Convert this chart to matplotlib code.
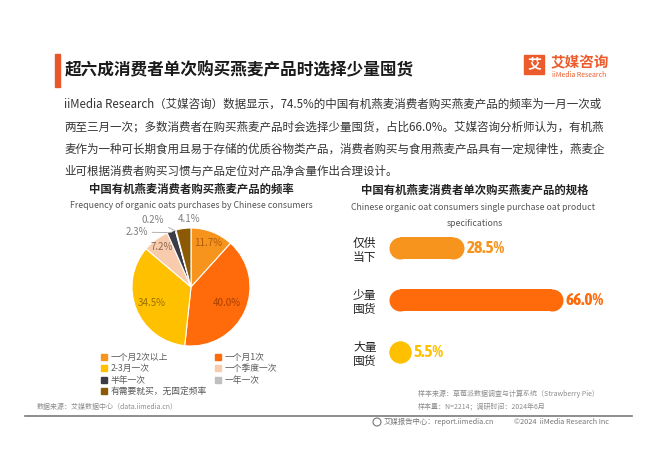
import matplotlib
matplotlib.use('Agg')
import matplotlib.pyplot as plt
import matplotlib.font_manager as fm
import numpy as np
from matplotlib.patches import Rectangle, Circle

plt.rcParams['font.family'] = ['Noto Sans CJK SC', 'DejaVu Sans']

# 数据
freq_labels = ['一个月2次以上', '一个月1次', '2-3月一次', '一个季度一次',
               '半年一次', '一年一次', '有需要就买，无固定频率']
freq_values = [11.7, 40.0, 34.5, 7.2, 2.3, 0.2, 4.1]
freq_colors = ['#F7941E', '#FF6A0A', '#FFC000', '#F8CBAD', '#3C3C48', '#BFBFBF', '#8C5A05']

spec_labels = ['仅供\n当下', '少量\n囤货', '大量\n囤货']
spec_values = [28.5, 66.0, 5.5]
spec_colors = ['#F7941E', '#FF6A0A', '#FFC000']

W, H = 660, 467
fig = plt.figure(figsize=(W / 100, H / 100), dpi=100)
fig.patch.set_facecolor('white')

# 整张图的像素坐标层
ax0 = fig.add_axes([0, 0, 1, 1])
ax0.set_xlim(0, W)
ax0.set_ylim(H, 0)
ax0.axis('off')
ax0.patch.set_visible(False)

# 标题
ax0.add_patch(Rectangle((55, 54), 5, 33, color='#E8572A'))
ax0.text(65, 70, '超六成消费者单次购买燕麦产品时选择少量囤货', fontsize=12, fontweight='bold',
         color='#1a1a1a', va='center')

# logo
ax0.add_patch(Rectangle((524, 55), 20, 19, color='#EB5B2B'))
ax0.text(534, 64.5, '艾', fontsize=10, fontweight='bold', color='white', ha='center', va='center')
ax0.text(551, 62, '艾媒咨询', fontsize=10.5, fontweight='bold', color='#EB5B2B', va='center')
ax0.text(552, 75, 'iiMedia Research', fontsize=5, color='#EB5B2B', va='center')

# 正文
para = ['iiMedia Research（艾媒咨询）数据显示，74.5%的中国有机燕麦消费者购买燕麦产品的频率为一月一次或',
        '两至三月一次；多数消费者在购买燕麦产品时会选择少量囤货，占比66.0%。艾媒咨询分析师认为，有机燕',
        '麦作为一种可长期食用且易于存储的优质谷物类产品，消费者购买与食用燕麦产品具有一定规律性，燕麦企',
        '业可根据消费者购买习惯与产品定位对产品净含量作出合理设计。']
for i, line in enumerate(para):
    ax0.text(64, 104 + i * 22.5, line, fontsize=8.3, color='#333333', va='center')

# 左侧标题
ax0.text(191, 189, '中国有机燕麦消费者购买燕麦产品的频率', fontsize=8.2, fontweight='bold',
         color='#222222', ha='center', va='center')
ax0.text(191, 206, 'Frequency of organic oats purchases by Chinese consumers', fontsize=6.3,
         color='#555555', ha='center', va='center')

# 右侧标题
ax0.text(475, 190, '中国有机燕麦消费者单次购买燕麦产品的规格', fontsize=8.2, fontweight='bold',
         color='#222222', ha='center', va='center')
ax0.text(473, 207, 'Chinese organic oat consumers single purchase oat product', fontsize=6.3,
         color='#555555', ha='center', va='center')
ax0.text(475, 223, 'specifications', fontsize=6.3, color='#555555', ha='center', va='center')

# 底部
ax0.text(37, 407, '数据来源：艾媒数据中心（data.iimedia.cn）', fontsize=5, color='#8c8c8c', va='center')
ax0.text(418, 394, '样本来源：草莓派数据调查与计算系统（Strawberry Pie）', fontsize=5, color='#8c8c8c', va='center')
ax0.text(418, 406, '样本量：N=2214；调研时间：2024年6月', fontsize=5, color='#8c8c8c', va='center')
ax0.plot([25, 632], [416, 416], color='#7a7a7a', lw=1.2)
ax0.add_patch(Circle((377, 422), 4, fill=False, ec='#777777', lw=0.8))
ax0.text(384, 422, '艾媒报告中心：report.iimedia.cn', fontsize=5.3, color='#777777', va='center')
ax0.text(514, 422, '©2024  iiMedia Research Inc', fontsize=5.3, color='#777777', va='center')

# 饼图
cx, cy, r_px = 191, 287, 59
half = r_px * 1.5
ax1 = fig.add_axes([(cx - half) / W, 1 - (cy + half) / H, 2 * half / W, 2 * half / H])
wedges, _ = ax1.pie(freq_values, colors=freq_colors, startangle=90, counterclock=False,
                    wedgeprops=dict(edgecolor='white', linewidth=0.8))
ax1.set_xlim(-1.5, 1.5)
ax1.set_ylim(-1.5, 1.5)
ax1.set_aspect('equal')
ax1.axis('off')

inner_dist = [0.8, 0.66, 0.72, 0.84]
inner_col = ['#B05A0A', '#A84000', '#9A7000', '#8B6A55']
for i in range(4):
    w = wedges[i]
    t = np.deg2rad((w.theta1 + w.theta2) / 2)
    ax1.text(inner_dist[i] * np.cos(t), inner_dist[i] * np.sin(t), f'{freq_values[i]:.1f}%',
             fontsize=7, color=inner_col[i], ha='center', va='center')

# 外部标签
outer = {4: (-0.73, 0.93, 'right'), 5: (-0.45, 1.14, 'right'), 6: (-0.03, 1.15, 'center')}
for i, (tx, ty, ha) in outer.items():
    w = wedges[i]
    t = np.deg2rad((w.theta1 + w.theta2) / 2)
    ex, ey = np.cos(t), np.sin(t)
    if i == 6:
        ax1.text(tx, ty, f'{freq_values[i]:.1f}%', fontsize=7, color='#7f7f7f', ha=ha, va='center')
    else:
        ax1.annotate(f'{freq_values[i]:.1f}%', xy=(ex * 0.98, ey * 0.98), xytext=(tx, ty),
                     fontsize=7, color='#7f7f7f', ha=ha, va='center',
                     arrowprops=dict(arrowstyle='-', color='#a6a6a6', lw=0.6,
                                     shrinkA=1, shrinkB=0))

# 图例
handles = [Rectangle((0, 0), 1, 1, color=c) for c in freq_colors]
order = [0, 2, 4, 6, 1, 3, 5]
fig.legend([handles[i] for i in order], [freq_labels[i] for i in order],
           loc='upper left', bbox_to_anchor=(93 / W, 1 - 345 / H), ncol=2, frameon=False,
           fontsize=6.3, handlelength=0.7, handleheight=0.7, handletextpad=0.4,
           labelspacing=0.28, columnspacing=0.9, labelcolor='#595959')


# 数字用窄体粗字
def is_bold(f):
    w = f.weight
    if isinstance(w, str):
        return 'bold' in w.lower() or 'black' in w.lower() or 'heavy' in w.lower()
    return w >= 600


num_font, num_stretch = 'DejaVu Sans', 'normal'
cands = [f for f in fm.fontManager.ttflist
         if ('Narrow' in f.name or 'Condensed' in f.name) and is_bold(f)]
if cands:
    num_font = cands[0].name
else:
    for f in fm.fontManager.ttflist:
        if f.name == 'DejaVu Sans' and f.stretch == 'condensed' and is_bold(f):
            num_stretch = 'condensed'

px_per = 2.64
bar_h = 22
x0, top = 389, 222
ax2 = fig.add_axes([x0 / W, 1 - (top + 156) / H, 240 / W, 156 / H])
ax2.set_xlim(0, 240 / px_per)
ax2.set_ylim(2.5, -0.5)
ax2.patch.set_visible(False)
for s in ax2.spines.values():
    s.set_visible(False)
ax2.set_xticks([])
ax2.set_yticks(range(len(spec_labels)))
ax2.set_yticklabels(spec_labels, fontsize=8.5, color='#222222')
ax2.tick_params(axis='y', length=0, pad=9)

cap = bar_h / 2 / px_per
lw_pt = bar_h * 72 / 100
for i, (v, c) in enumerate(zip(spec_values, spec_colors)):
    end = max(v - cap, cap)
    ax2.plot([cap, end], [i, i], color=c, lw=lw_pt, solid_capstyle='butt',
             marker='o', markersize=lw_pt, markeredgewidth=0)
    ax2.text(end + cap + 1.0, i, f'{v:.1f}%', fontsize=12.5, fontweight='bold',
             family=num_font, fontstretch=num_stretch, color=c, ha='left', va='center')

fig.savefig('out.png', dpi=100, facecolor='white')
